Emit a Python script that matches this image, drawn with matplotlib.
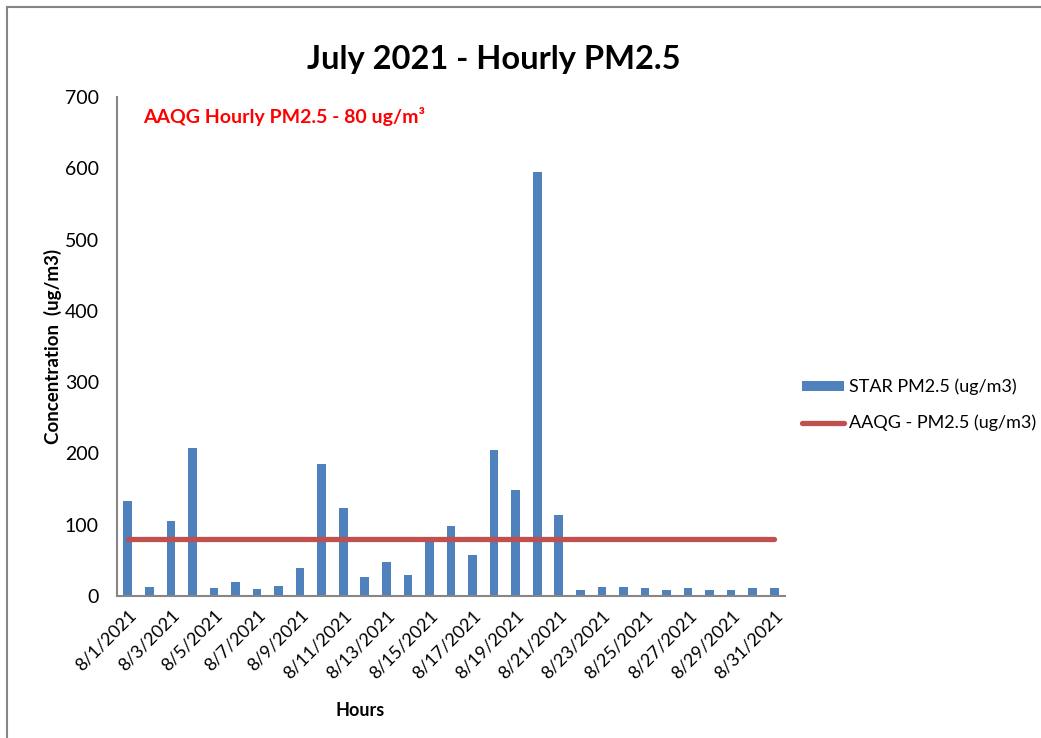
import matplotlib
matplotlib.use("Agg")
import matplotlib.pyplot as plt
from matplotlib.lines import Line2D
from matplotlib.patches import Patch

plt.rcParams['font.family'] = ['Lato', 'DejaVu Sans']

dates = [f"8/{d}/2021" for d in range(1, 32)]
star_pm25 = [133, 13, 105, 207, 11, 19, 10, 14, 39, 185, 124, 26, 48, 30, 78, 98,
             58, 205, 148, 595, 114, 9, 13, 13, 11, 9, 11, 9, 9, 11, 11]
aaqg_limit = [80] * len(dates)
y_ticks = [0, 100, 200, 300, 400, 500, 600, 700]

bar_color = '#4F81BD'
line_color = '#C0504D'

fig = plt.figure(figsize=(10.41, 7.38), dpi=100)
ax = fig.add_axes([117/1041, 1-596/738, (785-117)/1041, (596-97)/738])

x = list(range(len(dates)))
ax.bar(x, star_pm25, width=0.4, color=bar_color, zorder=2)
ax.plot(x, aaqg_limit, color=line_color, linewidth=3.8, solid_capstyle='round', zorder=3)

ax.set_xlim(-0.5, len(dates) - 0.5)
ax.set_ylim(0, 700)
ax.set_yticks(y_ticks)
ax.set_yticklabels([str(v) for v in y_ticks], fontsize=14)
ax.set_xticks(x[::2])
ax.set_xticklabels(dates[::2], rotation=45, ha='right', rotation_mode='anchor', fontsize=13)
ax.tick_params(axis='x', length=0, pad=8)
ax.tick_params(axis='y', length=0, pad=13)

for s in ['top', 'right']:
    ax.spines[s].set_visible(False)
for s in ['left', 'bottom']:
    ax.spines[s].set_color('#868686')
    ax.spines[s].set_linewidth(1.5)

ax.set_ylabel('Concentration  (ug/m3)', fontsize=13.5, fontweight='bold', labelpad=2)
fig.text(360/1041, 1-710/738, 'Hours', fontsize=13, fontweight='bold', ha='center', va='center')
fig.text(494/1041, 1-60/738, 'July 2021 - Hourly PM2.5', fontsize=23.5, fontweight='bold',
         ha='center', va='center')
fig.text(143/1041, 1-117/738, 'AAQG Hourly PM2.5 - 80 ug/m³', fontsize=14, fontweight='bold',
         color='#FF0000', ha='left', va='center')

handles = [Patch(facecolor=bar_color, edgecolor='none'),
           Line2D([0], [0], color=line_color, linewidth=3.8, solid_capstyle='round')]
labels = ['STAR PM2.5 (ug/m3)', 'AAQG - PM2.5 (ug/m3)']
fig.legend(handles, labels, loc='center left', bbox_to_anchor=(786/1041, 1-405/738),
           frameon=False, fontsize=13, handlelength=2.3, handleheight=0.5,
           labelspacing=1.1, handletextpad=0.3)

# chart border (left and top edges)
fig.add_artist(Line2D([7/1041, 7/1041], [0, 1-7/738], transform=fig.transFigure,
                      color='#868686', linewidth=1.5))
fig.add_artist(Line2D([7/1041, 1], [1-7/738, 1-7/738], transform=fig.transFigure,
                      color='#868686', linewidth=1.5))

fig.savefig('out.png', dpi=100)
